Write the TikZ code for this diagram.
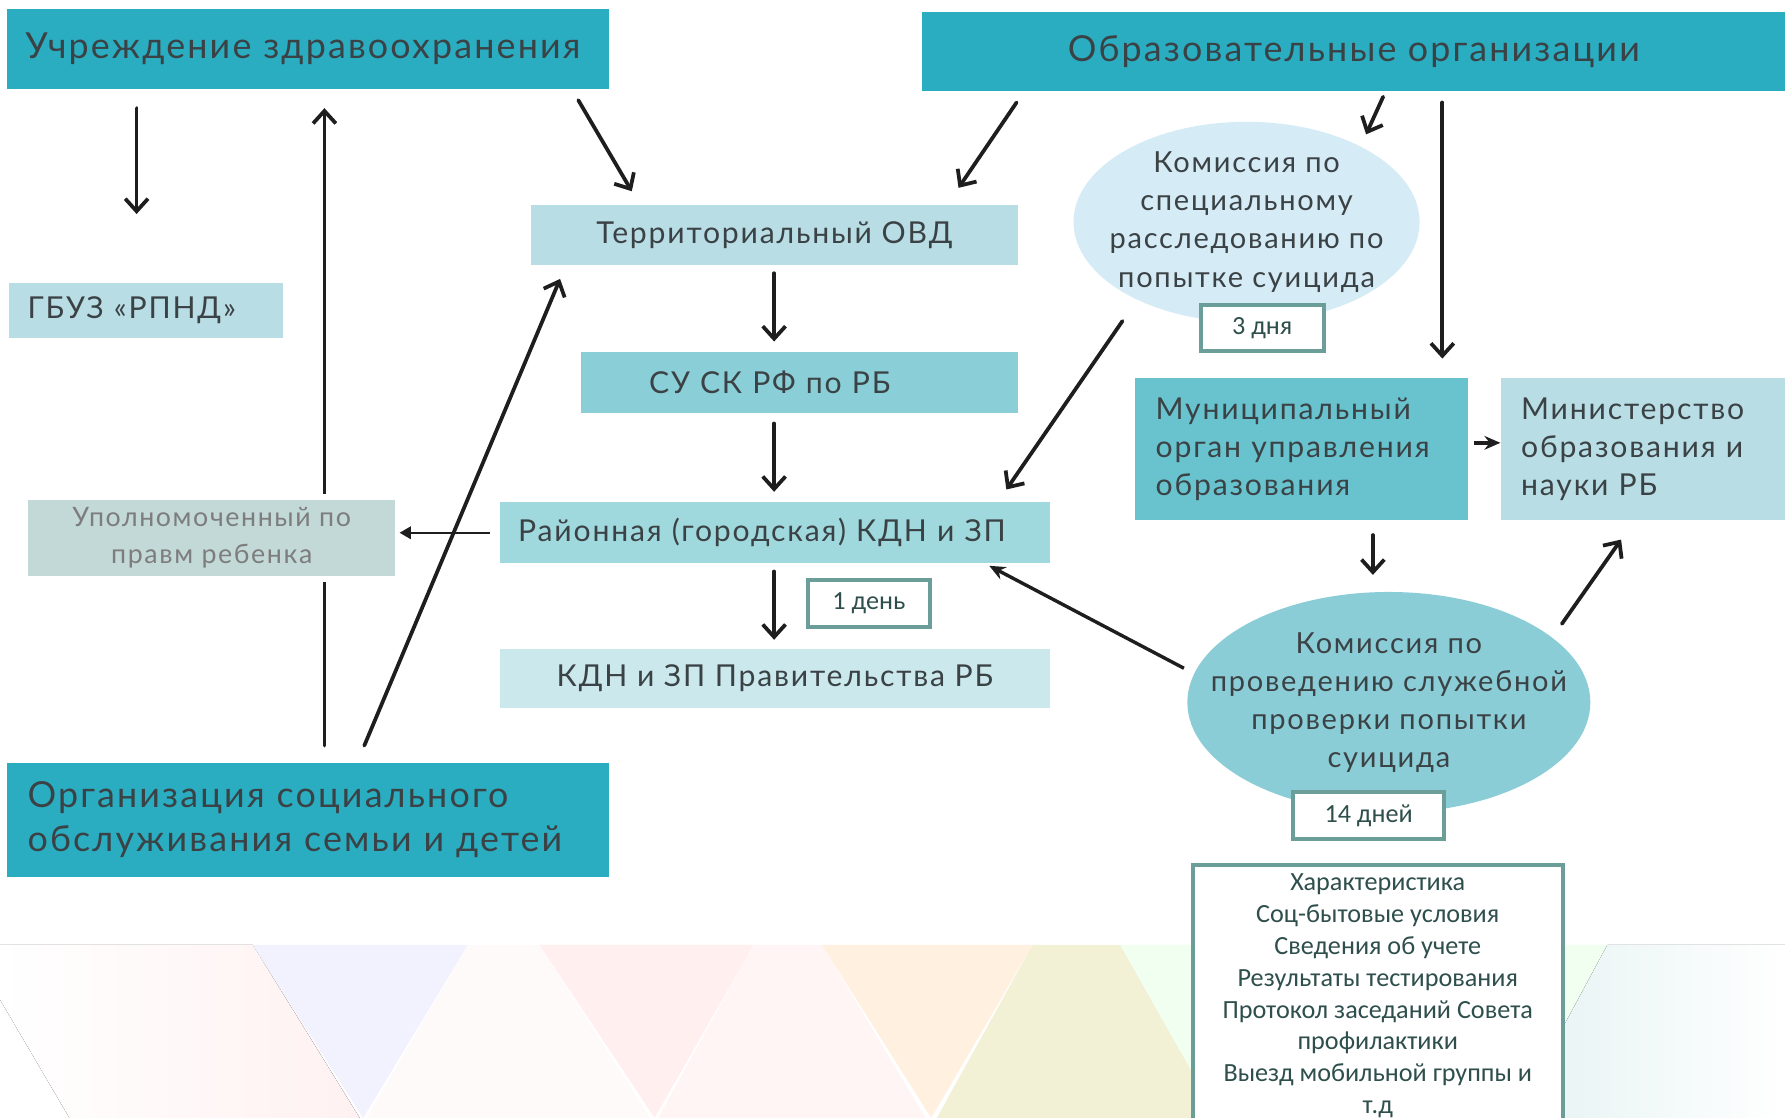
\documentclass[tikz,border=0pt]{standalone}
\usepackage{fontspec}
\setmainfont{Lato}[LetterSpace=6]
\newfontfamily\calibfont{Carlito}
\usetikzlibrary{arrows.meta,shapes.geometric}

\definecolor{Teal}{HTML}{2BADC1}
\definecolor{PaleBlue}{HTML}{B9DDE5}
\definecolor{SkBlue}{HTML}{8ACFD7}
\definecolor{Aqua}{HTML}{A0D9DD}
\definecolor{LightAqua}{HTML}{CBE8EC}
\definecolor{GreyBox}{HTML}{C3D9D8}
\definecolor{Muni}{HTML}{68C3CE}
\definecolor{OvalA}{HTML}{D5EBF5}
\definecolor{OvalB}{HTML}{8BCDD6}
\definecolor{Frame}{HTML}{6B9D99}
\definecolor{Ink}{HTML}{3B4245}
\definecolor{GreyInk}{HTML}{7D7D7D}
\definecolor{LblInk}{HTML}{2E4F4C}
\definecolor{Arrow}{HTML}{1E1E1E}

\begin{document}
\begin{tikzpicture}[x=1pt, y=-1pt,
  blk/.style={rectangle, anchor=north west, inner sep=0pt, text=Ink},
  big/.style={font=\fontsize{31.5}{39}\selectfont},
  mid/.style={font=\fontsize{26.5}{33}\selectfont},
  oval/.style={ellipse, inner sep=-50pt, text=Ink, align=center, font=\fontsize{25.5}{33.5}\selectfont},
  lbl/.style={rectangle, anchor=north west, inner sep=0pt, fill=white, draw=Frame, line width=3.5pt,
    text=LblInk, font=\calibfont\fontsize{23}{28}\selectfont},
  arr/.style={-{Straight Barb[length=11pt,width=20pt,line width=3.3pt]}, line width=3.3pt, draw=Arrow, line cap=round},
  arrfill/.style={-{Stealth[length=14pt,width=12pt]}, line width=3pt, draw=Arrow},
  arrthin/.style={-{Triangle[length=10pt,width=11pt]}, line width=2pt, draw=Arrow}]

  \useasboundingbox (0,0) rectangle (1568,982);
  \clip (0,0) rectangle (1568,982);

  %%%%%%%%%%%%%%%% BACKGROUND BAND %%%%%%%%%%%%%%%%
  \fill[white] (0,0) rectangle (1568,982);
  \fill[left color=white, right color=pink!22!white] (0,830) -- (222,830) -- (316,982) -- (61,982) -- (0,878) -- cycle;
  \fill[blue!5!white] (222,830) -- (411,830) -- (319,982) -- cycle;
  \fill[pink!8!white] (411,830) -- (474,830) -- (571,982) -- (322,982) -- cycle;
  \fill[pink!25!white] (474,830) -- (662,830) -- (575,982) -- cycle;
  \fill[pink!16!white] (662,830) -- (722,830) -- (813,982) -- (578,982) -- cycle;
  \fill[orange!12!white] (722,830) -- (907,830) -- (818,982) -- cycle;
  \fill[olive!12!white] (907,830) -- (984,830) -- (1070,982) -- (823,982) -- cycle;
  \fill[green!6!white] (984,830) -- (1412,830) -- (1330,982) -- (1070,982) -- cycle;
  \fill[left color=teal!10!white, right color=white] (1412,830) -- (1568,830) -- (1568,982) -- (1330,982) -- cycle;

  %%%%%%%%%% Points pour les fleches %%%%%%%%%%
  \coordinate (a1s) at (120,95);
  \coordinate (a1e) at (120,188);
  \coordinate (a2s) at (285,655);
  \coordinate (a2e) at (285,95);
  \coordinate (a3s) at (320,655);
  \coordinate (a3e) at (492,245);
  \coordinate (a4s) at (508,88);
  \coordinate (a4e) at (555,168);
  \coordinate (a5s) at (893,90);
  \coordinate (a5e) at (842,165);
  \coordinate (a6s) at (1215,85);
  \coordinate (a6e) at (1200,118);
  \coordinate (a7s) at (1267,90);
  \coordinate (a7e) at (1267,315);
  \coordinate (a8s) at (986,282);
  \coordinate (a8e) at (884,430);
  \coordinate (a9s) at (680,240);
  \coordinate (a9e) at (680,300);
  \coordinate (a10s) at (680,372);
  \coordinate (a10e) at (680,432);
  \coordinate (a11s) at (430,468);
  \coordinate (a11e) at (351,468);
  \coordinate (a12s) at (680,502);
  \coordinate (a12e) at (680,562);
  \coordinate (a13s) at (1040,587);
  \coordinate (a13e) at (869,497);
  \coordinate (a14s) at (1206,470);
  \coordinate (a14e) at (1206,505);
  \coordinate (a15s) at (1372,548);
  \coordinate (a15e) at (1424,474);
  \coordinate (a16s) at (1295,389);
  \coordinate (a16e) at (1318,389);

  % Long line behind the ombudsman box
  \draw[arr] (a2s) -- (a2e);

  %%%%%%%%%%%%%%%% BOXES %%%%%%%%%%%%%%%%
  \node[blk, big, fill=Teal, minimum width=529pt, minimum height=70pt, inner xsep=16pt, text width=497pt, align=left] (uchr) at (6,8) {Учреждение здравоохранения};
  \node[blk, big, fill=Teal, minimum width=758pt, minimum height=70pt] (obraz) at (810,10) {Образовательные организации};
  \node[blk, mid, fill=PaleBlue, minimum width=428pt, minimum height=53pt] (tovd) at (466,180) {Территориальный ОВД};
  \node[blk, mid, fill=PaleBlue, minimum width=240pt, minimum height=49pt, inner xsep=16pt, text width=208pt, align=left] (gbuz) at (8,248) {ГБУЗ «РПНД»};
  \node[blk, mid, fill=SkBlue, minimum width=384pt, minimum height=54pt, inner xsep=60pt, text width=264pt, align=left] (susk) at (510,309) {СУ СК РФ по РБ};
  \node[blk, mid, fill=Aqua, minimum width=483pt, minimum height=53pt, inner xsep=16pt, text width=451pt, align=left] (rayon) at (439,441) {Районная (городская) КДН и ЗП};
  \node[blk, mid, fill=LightAqua, minimum width=483pt, minimum height=52pt] (kdnp) at (439,570) {КДН и ЗП Правительства РБ};
  \node[blk, font=\fontsize{23.5}{33}\selectfont, text=GreyInk, fill=GreyBox, draw=white, line width=5pt, minimum width=327pt, minimum height=72pt, align=center] (upoln) at (20,434) {Уполномоченный по\\правм ребенка};
  \node[blk, mid, fill=Muni, minimum width=292pt, minimum height=125pt, inner xsep=18pt, text width=256pt, align=left] (munic) at (997,332) {Муниципальный\\орган управления\\образования};
  \node[blk, mid, fill=PaleBlue, minimum width=250pt, minimum height=125pt, inner xsep=18pt, text width=214pt, align=left] (minis) at (1318,332) {Министерство\\образования и\\науки РБ};
  \node[blk, big, fill=Teal, minimum width=529pt, minimum height=100pt, inner xsep=18pt, text width=493pt, align=left] (orgs) at (6,670) {Организация социального\\обслуживания семьи и детей};

  % Commissions
  \node[oval, fill=OvalA, minimum width=304pt, minimum height=176pt] (kom1) at (1095,195) {Комиссия по\\специальному\\расследованию по\\попытке суицида};
  \node[oval, fill=OvalB, minimum width=354pt, minimum height=194pt] (kom2) at (1220,617) {Комиссия по\\проведению служебной\\проверки попытки\\суицида};

  % Deadlines
  \node[lbl, minimum width=108pt, minimum height=41pt] (d3) at (1053,266) {3 дня};
  \node[lbl, minimum width=107pt, minimum height=41pt] (d1) at (708,508) {1 день};
  \node[lbl, minimum width=133pt, minimum height=41pt] (d14) at (1134,694) {14 дней};
  \node[lbl, minimum width=325pt, minimum height=230pt, align=center] (spis) at (1046,758)
    {Характеристика\\Соц-бытовые условия\\Сведения об учете\\Результаты тестирования\\Протокол заседаний Совета\\профилактики\\Выезд мобильной группы и\\т.д};

  %%%%%%%%%%%%%%%% ARROWS %%%%%%%%%%%%%%%%
  \draw[arr] (a1s) -- (a1e);
  \draw[arr] (a3s) -- (a3e);
  \draw[arr] (a4s) -- (a4e);
  \draw[arr] (a5s) -- (a5e);
  \draw[arr] (a6s) -- (a6e);
  \draw[arr] (a7s) -- (a7e);
  \draw[arr] (a8s) -- (a8e);
  \draw[arr] (a9s) -- (a9e);
  \draw[arr] (a10s) -- (a10e);
  \draw[arr] (a12s) -- (a12e);
  \draw[arr] (a14s) -- (a14e);
  \draw[arr] (a15s) -- (a15e);
  \draw[arrthin] (a11s) -- (a11e);
  \draw[arrfill] (a13s) -- (a13e);
  \draw[arrfill, line width=3.5pt] (a16s) -- (a16e);

\end{tikzpicture}
\end{document}
